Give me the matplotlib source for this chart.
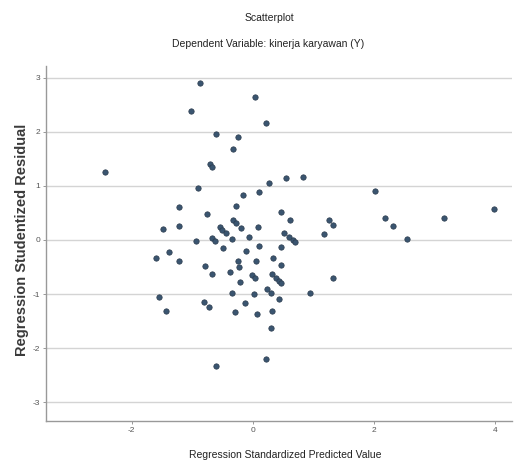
import matplotlib
matplotlib.use("Agg")
import matplotlib.pyplot as plt
from matplotlib import font_manager

# ---- data ----
pred_std = [-2.44, -0.87, -1.02, 0.03, 0.21, -0.61, -0.25, -0.33, -0.70, -0.67,
            -0.90, 0.26, 0.54, 0.82, -0.16, 0.11, 2.02, -1.21, -0.28, -0.75,
            0.46, 0.61, -0.33, -0.28, -1.48, -1.21, -0.54, -0.51, -0.44, -0.20,
            0.08, 0.51, 0.59, 0.66, 0.69, 1.26, 1.33, 1.18, 2.18, 2.31,
            2.54, 3.15, 3.98, -0.93, -0.67, -0.62, -0.34, -0.07, -0.49, -0.11,
            0.11, 0.46, -1.38, -1.59, -1.21, -0.79, -0.67, -0.38, -0.25, -0.23,
            0.05, 0.33, 0.46, -0.21, -0.02, 0.03, 0.31, 0.38, 0.43, 0.46,
            -0.34, 0.02, 0.23, 0.30, 0.43, -1.54, -1.43, -0.80, -0.72, -0.13,
            -0.30, 0.07, 0.31, 0.30, 0.95, 1.33, -0.61, 0.21]
resid_stud = [1.26, 2.91, 2.39, 2.65, 2.17, 1.96, 1.91, 1.69, 1.41, 1.35,
              0.96, 1.06, 1.15, 1.17, 0.83, 0.89, 0.91, 0.61, 0.63, 0.48,
              0.52, 0.37, 0.37, 0.31, 0.20, 0.26, 0.24, 0.19, 0.13, 0.22,
              0.24, 0.13, 0.06, 0.00, -0.04, 0.37, 0.28, 0.11, 0.41, 0.26,
              0.02, 0.41, 0.57, -0.02, 0.04, -0.02, 0.02, 0.06, -0.15, -0.20,
              -0.11, -0.13, -0.22, -0.33, -0.39, -0.48, -0.63, -0.59, -0.39, -0.50,
              -0.39, -0.33, -0.46, -0.78, -0.65, -0.70, -0.63, -0.70, -0.76, -0.80,
              -0.98, -1.00, -0.91, -0.98, -1.09, -1.06, -1.31, -1.15, -1.24, -1.17,
              -1.33, -1.37, -1.31, -1.63, -0.98, -0.70, -2.33, -2.20]
x_ticks = [-2, 0, 2, 4]
y_ticks = [-3, -2, -1, 0, 1, 2, 3]
title = "Scatterplot"
subtitle = "Dependent Variable: kinerja karyawan (Y)"
xlabel = "Regression Standardized Predicted Value"
ylabel = "Regression Studentized Residual"

# ---- fonts ----
available = {f.name for f in font_manager.fontManager.ttflist}
narrow = "Liberation Sans Narrow" if "Liberation Sans Narrow" in available else "Liberation Sans"
plt.rcParams['font.family'] = [narrow, 'DejaVu Sans']
plt.rcParams['axes.unicode_minus'] = False

fig = plt.figure(figsize=(5.15, 4.68), dpi=100)
ax = fig.add_axes([0.0893, 0.1004, 0.9057, 0.7586])

ax.set_xlim(-3.41, 4.28)
ax.set_ylim(-3.35, 3.22)

for yv in y_ticks:
    ax.axhline(yv, color='#d4d4d4', linewidth=1.0, zorder=0)

ax.scatter(pred_std, resid_stud, s=15, color='#3a5570', edgecolors='#2a3a4c',
           linewidths=0.5, zorder=3)

ax.set_xticks(x_ticks)
ax.set_yticks(y_ticks)
ax.tick_params(axis='both', labelsize=6, colors='#888888', length=2, width=0.6,
               labelcolor='#555555', pad=2)

for side in ['top', 'right']:
    ax.spines[side].set_visible(False)
for side in ['left', 'bottom']:
    ax.spines[side].set_color('#999999')
    ax.spines[side].set_linewidth(1.0)

fig.text(269 / 515, 1 - 18 / 468, title, ha='center', va='center', fontsize=7.5, color='#222222')
fig.text(268 / 515, 1 - 44 / 468, subtitle, ha='center', va='center', fontsize=7.5, color='#222222')
fig.text(285 / 515, 1 - 455 / 468, xlabel, ha='center', va='center', fontsize=7.5, color='#222222')
fig.text(22 / 515, 1 - 240 / 468, ylabel, ha='center', va='center', rotation=90,
         fontsize=10.5, fontweight='bold', color='#3a3a3a', family=['Liberation Sans', 'DejaVu Sans'])

fig.savefig("out.png", dpi=100, facecolor='white')
